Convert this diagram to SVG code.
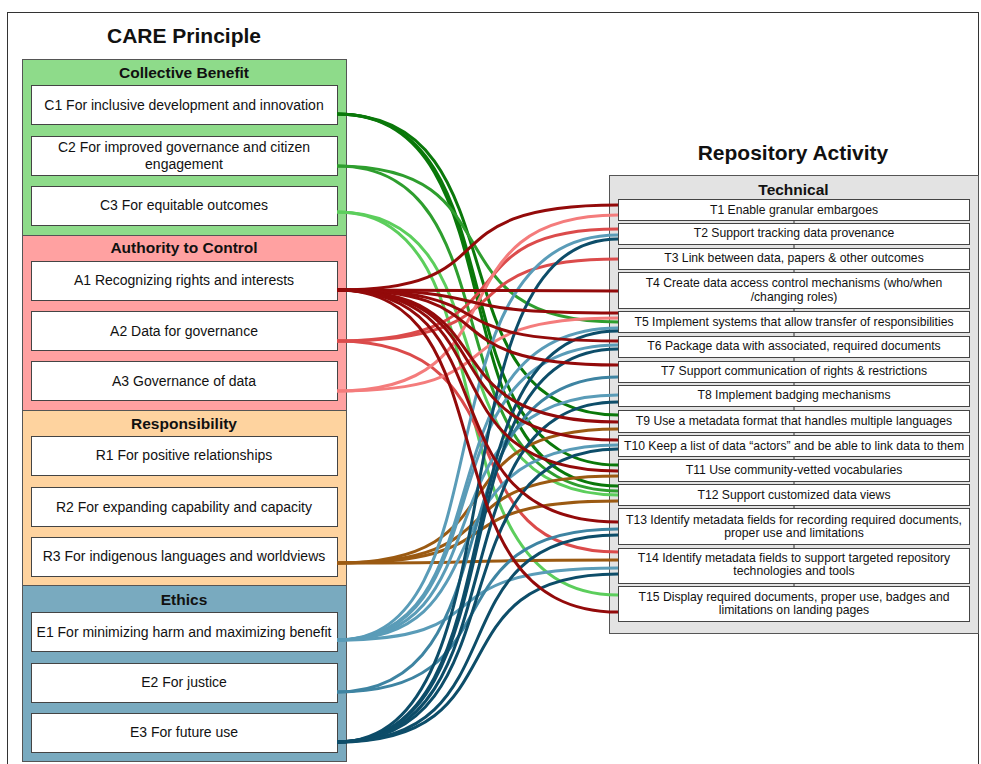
<svg xmlns="http://www.w3.org/2000/svg" width="981" height="764" viewBox="0 0 981 764">
<style>
text{font-family:"Liberation Sans",Arial,sans-serif;fill:#111;text-anchor:middle}
.h1{font-size:21px;font-weight:bold}
.h2{font-size:15.5px;font-weight:bold}
.lt{font-size:14px}
.rt{font-size:12.2px}
.box{fill:#fff;stroke:#444;stroke-width:1}
.grp{stroke:#555;stroke-width:1}
.tick{stroke:#333;stroke-width:1}
#connectors path{fill:none;stroke-width:3}
.c1{stroke:#0a780a}.c2{stroke:#2e9e2e}.c3{stroke:#5cce5c}
.a1{stroke:#930a0a}.a2{stroke:#db4b4b}.a3{stroke:#f47c7c}
.r3{stroke:#9b5a12}
.e1{stroke:#5a9cb8}.e2{stroke:#3e84a2}.e3{stroke:#0d4d69}
</style>
<rect x="7.5" y="12.5" width="971" height="760" fill="#fff" stroke="#333" stroke-width="1"/>
<text class="h1" x="184" y="42.5">CARE Principle</text>
<text class="h1" x="793" y="159.5">Repository Activity</text>

<g id="group-collective">
<rect class="grp" x="22.5" y="59.5" width="324" height="176" fill="#8edb8a"/>
<text class="h2" x="184" y="77.5">Collective Benefit</text>
</g>
<g id="group-authority">
<rect class="grp" x="22.5" y="235.5" width="324" height="175" fill="#ffa1a1"/>
<text class="h2" x="184" y="253">Authority to Control</text>
</g>
<g id="group-responsibility">
<rect class="grp" x="22.5" y="410.5" width="324" height="175" fill="#fed39f"/>
<text class="h2" x="184" y="429">Responsibility</text>
</g>
<g id="group-ethics">
<rect class="grp" x="22.5" y="585.5" width="324" height="176" fill="#79aabf"/>
<text class="h2" x="184" y="605">Ethics</text>
</g>

<g id="C1"><rect class="box" x="31.5" y="85.5" width="306" height="39"/><text class="lt" x="184" y="109.5">C1 For inclusive development and innovation</text></g>
<g id="C2"><rect class="box" x="31.5" y="136.5" width="306" height="39"/><text class="lt" x="184" y="151.5">C2 For improved governance and citizen</text><text class="lt" x="184" y="169">engagement</text></g>
<g id="C3"><rect class="box" x="31.5" y="186.5" width="306" height="39"/><text class="lt" x="184" y="210">C3 For equitable outcomes</text></g>
<g id="A1"><rect class="box" x="31.5" y="261.5" width="306" height="39"/><text class="lt" x="184" y="285">A1 Recognizing rights and interests</text></g>
<g id="A2"><rect class="box" x="31.5" y="311.5" width="306" height="39"/><text class="lt" x="184" y="335.7">A2 Data for governance</text></g>
<g id="A3"><rect class="box" x="31.5" y="361.5" width="306" height="39"/><text class="lt" x="184" y="385.7">A3 Governance of data</text></g>
<g id="R1"><rect class="box" x="31.5" y="436.5" width="306" height="39"/><text class="lt" x="184" y="460">R1 For positive relationships</text></g>
<g id="R2"><rect class="box" x="31.5" y="487.5" width="306" height="39"/><text class="lt" x="184" y="511.7">R2 For expanding capability and capacity</text></g>
<g id="R3"><rect class="box" x="31.5" y="537.5" width="306" height="39"/><text class="lt" x="184" y="561">R3 For indigenous languages and worldviews</text></g>
<g id="E1"><rect class="box" x="31.5" y="612.5" width="306" height="39"/><text class="lt" x="184" y="636.7">E1 For minimizing harm and maximizing benefit</text></g>
<g id="E2"><rect class="box" x="31.5" y="663.5" width="306" height="39"/><text class="lt" x="184" y="686.7">E2 For justice</text></g>
<g id="E3"><rect class="box" x="31.5" y="713.5" width="306" height="39"/><text class="lt" x="184" y="736.7">E3 For future use</text></g>

<g id="group-technical">
<rect x="609.5" y="175.5" width="369" height="458" fill="#e3e3e3" stroke="#555" stroke-width="1"/>
<text class="h2" x="793.5" y="194.5">Technical</text>
<line class="tick" x1="794" y1="220" x2="794" y2="223"/>
<line class="tick" x1="794" y1="244" x2="794" y2="248"/>
<line class="tick" x1="794" y1="269" x2="794" y2="272"/>
<line class="tick" x1="794" y1="308" x2="794" y2="311"/>
<line class="tick" x1="794" y1="332" x2="794" y2="336"/>
<line class="tick" x1="794" y1="357" x2="794" y2="361"/>
<line class="tick" x1="794" y1="382" x2="794" y2="385"/>
<line class="tick" x1="794" y1="406" x2="794" y2="410"/>
<line class="tick" x1="794" y1="432" x2="794" y2="435"/>
<line class="tick" x1="794" y1="456" x2="794" y2="459"/>
<line class="tick" x1="794" y1="481" x2="794" y2="484"/>
<line class="tick" x1="794" y1="505" x2="794" y2="508"/>
<line class="tick" x1="794" y1="544" x2="794" y2="548"/>
<line class="tick" x1="794" y1="583" x2="794" y2="586"/>
</g>

<g id="T1"><rect class="box" x="618.5" y="199.5" width="351" height="21"/><text class="rt" x="794" y="213.5">T1 Enable granular embargoes</text></g>
<g id="T2"><rect class="box" x="618.5" y="223.5" width="351" height="21"/><text class="rt" x="794" y="237.2">T2 Support tracking data provenance</text></g>
<g id="T3"><rect class="box" x="618.5" y="248.5" width="351" height="21"/><text class="rt" x="794" y="262.2">T3 Link between data, papers &amp; other outcomes</text></g>
<g id="T4"><rect class="box" x="618.5" y="272.5" width="351" height="36"/><text class="rt" x="794" y="287.2">T4 Create data access control mechanisms (who/when</text><text class="rt" x="794" y="301.2">/changing roles)</text></g>
<g id="T5"><rect class="box" x="618.5" y="311.5" width="351" height="21"/><text class="rt" x="794" y="326.2">T5 Implement systems that allow transfer of responsibilities</text></g>
<g id="T6"><rect class="box" x="618.5" y="336.5" width="351" height="21"/><text class="rt" x="794" y="349.5">T6 Package data with associated, required documents</text></g>
<g id="T7"><rect class="box" x="618.5" y="361.5" width="351" height="21"/><text class="rt" x="794" y="375.2">T7 Support communication of rights &amp; restrictions</text></g>
<g id="T8"><rect class="box" x="618.5" y="385.5" width="351" height="21"/><text class="rt" x="794" y="398.8">T8 Implement badging mechanisms</text></g>
<g id="T9"><rect class="box" x="618.5" y="410.5" width="351" height="22"/><text class="rt" x="794" y="425.2">T9 Use a metadata format that handles multiple languages</text></g>
<g id="T10"><rect class="box" x="618.5" y="435.5" width="351" height="21"/><text class="rt" x="794" y="449.5">T10 Keep a list of data “actors” and be able to link data to them</text></g>
<g id="T11"><rect class="box" x="618.5" y="459.5" width="351" height="22"/><text class="rt" x="794" y="473.5">T11 Use community-vetted vocabularies</text></g>
<g id="T12"><rect class="box" x="618.5" y="484.5" width="351" height="21"/><text class="rt" x="794" y="498.5">T12 Support customized data views</text></g>
<g id="T13"><rect class="box" x="618.5" y="508.5" width="351" height="36"/><text class="rt" x="794" y="524.4">T13 Identify metadata fields for recording required documents,</text><text class="rt" x="794" y="536.7">proper use and limitations</text></g>
<g id="T14"><rect class="box" x="618.5" y="548.5" width="351" height="35"/><text class="rt" x="794" y="562.1">T14 Identify metadata fields to support targeted repository</text><text class="rt" x="794" y="575.1">technologies and tools</text></g>
<g id="T15"><rect class="box" x="618.5" y="586.5" width="351" height="35"/><text class="rt" x="794" y="601.1">T15 Display required documents, proper use, badges and</text><text class="rt" x="794" y="613.7">limitations on landing pages</text></g>

<g id="connectors">
<!-- C1 (d=0) -->
<path class="c1" d="M337,114 C527,114 428,415 618,415"/>
<path class="c1" d="M337,114 C527,114 428,465 618,465"/>
<path class="c1" d="M337,114 C527,114 428,486 618,486"/>
<!-- C2 (d=-5) -->
<path class="c2" d="M337,166 C522,166 423,322 618,322"/>
<path class="c2" d="M337,166 C522,166 423,491 618,491"/>
<!-- C3 (d=-10) -->
<path class="c3" d="M337,212 C517,212 418,495 618,495"/>
<path class="c3" d="M337,212 C517,212 418,595 618,595"/>
<!-- A2 (d=+10) -->
<path class="a2" d="M337,341 C537,341 438,229 618,229"/>
<path class="a2" d="M337,341 C537,341 438,259 618,259"/>
<path class="a2" d="M337,341 C537,341 438,552 618,552"/>
<!-- A3 (d=0) -->
<path class="a3" d="M337,391 C527,391 428,215 618,215"/>
<path class="a3" d="M337,391 C527,391 428,318 618,318"/>
<!-- R3 (d=0) -->
<path class="r3" d="M337,563 C527,563 428,429 618,429"/>
<path class="r3" d="M337,563 C527,563 428,476 618,476"/>
<path class="r3" d="M337,563 C527,563 428,501 618,501"/>
<path class="r3" d="M337,563 C527,563 428,560 618,560"/>
<!-- E1 (d=-15) -->
<path class="e1" d="M337,640 C512,640 413,235 618,235"/>
<path class="e1" d="M337,640 C512,640 413,328 618,328"/>
<path class="e1" d="M337,640 C512,640 413,345 618,345"/>
<path class="e1" d="M337,640 C512,640 413,395 618,395"/>
<path class="e1" d="M337,640 C512,640 413,445 618,445"/>
<path class="e1" d="M337,640 C512,640 413,568 618,568"/>
<!-- E2 (d=-5) -->
<path class="e2" d="M337,692 C522,692 423,377 618,377"/>
<path class="e2" d="M337,692 C522,692 423,529 618,529"/>
<!-- E3 (d=0) -->
<path class="e3" d="M337,742 C527,742 428,239 618,239"/>
<path class="e3" d="M337,742 C527,742 428,331 618,331"/>
<path class="e3" d="M337,742 C527,742 428,349 618,349"/>
<path class="e3" d="M337,742 C527,742 428,402 618,402"/>
<path class="e3" d="M337,742 C527,742 428,449 618,449"/>
<path class="e3" d="M337,742 C527,742 428,535 618,535"/>
<path class="e3" d="M337,742 C527,742 428,574 618,574"/>
<!-- A1 (d=-10) -->
<path class="a1" d="M337,290 C517,290 418,205 618,205"/>
<path class="a1" d="M337,290 C517,290 418,291 618,291"/>
<path class="a1" d="M337,290 C517,290 418,313 618,313"/>
<path class="a1" d="M337,290 C517,290 418,341 618,341"/>
<path class="a1" d="M337,290 C517,290 418,365 618,365"/>
<path class="a1" d="M337,290 C517,290 418,422 618,422"/>
<path class="a1" d="M337,290 C517,290 418,440 618,440"/>
<path class="a1" d="M337,290 C517,290 418,471 618,471"/>
<path class="a1" d="M337,290 C517,290 418,522 618,522"/>
<path class="a1" d="M337,290 C517,290 418,612 618,612"/>
</g>
</svg>
